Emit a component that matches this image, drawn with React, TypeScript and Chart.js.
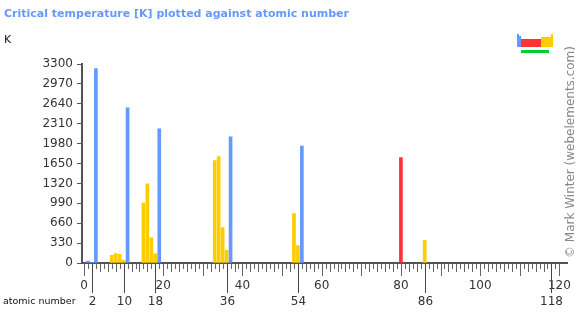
import React, { useEffect, useRef } from 'react';
import { Chart, registerables } from 'chart.js';

Chart.register(...registerables);

// Elements with a known critical temperature
const atomicNumbers = [1, 2, 3, 7, 8, 9, 10, 11, 15, 16, 17, 18, 19, 33, 34, 35, 36, 37, 53, 54, 55, 80, 86];
const criticalTemps = [33.2, 5.19, 3223, 126.2, 154.6, 144.3, 44.4, 2573, 994, 1314, 416.9, 150.8, 2223, 1700, 1766, 588, 209.4, 2093, 819, 289.7, 1938, 1750, 377];
const blocks = ['s', 's', 's', 'p', 'p', 'p', 'p', 's', 'p', 'p', 'p', 'p', 's', 'p', 'p', 'p', 'p', 's', 'p', 'p', 's', 'd', 'p'];

const yTickValues = [0, 330, 660, 990, 1320, 1650, 1980, 2310, 2640, 2970, 3300];
const xLabelValues = [0, 20, 40, 60, 80, 100, 120];
const nobleGasNumbers = [2, 10, 18, 36, 54, 86, 118];

const titleText = 'Critical temperature [K] plotted against atomic number';
const unitText = 'K';
const xAxisTitle = 'atomic number';
const creditText = '\u00A9 Mark Winter (webelements.com)';

const blockColors: Record<string, string> = {
  s: '#6699ff',
  p: '#ffcc00',
  d: '#ff3333',
  f: '#00cc33',
};

const FONT = '"DejaVu Sans", Verdana, sans-serif';

const decorPlugin = {
  id: 'decor',
  afterDraw(chart: any) {
    const ctx = chart.ctx as CanvasRenderingContext2D;
    const xs = chart.scales.x;
    const area = chart.chartArea;
    ctx.save();

    // Minor / major ticks on the x axis
    ctx.strokeStyle = '#666';
    ctx.lineWidth = 1;
    xs.ticks.forEach((t: any) => {
      const v = t.value;
      const px = Math.round(xs.getPixelForValue(v)) + 0.5;
      const end = v % 10 === 0 ? 276 : v % 2 === 0 ? 272 : 269;
      ctx.beginPath();
      ctx.moveTo(px, area.bottom + 1);
      ctx.lineTo(px, end);
      ctx.stroke();
    });

    // Title
    ctx.fillStyle = '#6699ff';
    ctx.font = `bold 11px ${FONT}`;
    ctx.textAlign = 'left';
    ctx.textBaseline = 'middle';
    ctx.fillText(titleText, 4, 14);

    // Unit
    ctx.fillStyle = '#111';
    ctx.font = `11px ${FONT}`;
    ctx.fillText(unitText, 4, 40);

    // x axis title
    ctx.fillStyle = '#111';
    ctx.font = `9.5px ${FONT}`;
    ctx.fillText(xAxisTitle, 3, 302);

    // Noble gas markers
    ctx.strokeStyle = '#444';
    ctx.lineWidth = 1;
    ctx.fillStyle = '#333';
    ctx.font = `12px ${FONT}`;
    ctx.textAlign = 'center';
    nobleGasNumbers.forEach((n) => {
      const px = Math.round(xs.getPixelForValue(n)) + 0.5;
      ctx.beginPath();
      ctx.moveTo(px, area.bottom + 1);
      ctx.lineTo(px, 293);
      ctx.stroke();
      ctx.fillText(String(n), px, 302);
    });

    // Credit
    ctx.save();
    ctx.translate(571, 152);
    ctx.rotate(-Math.PI / 2);
    ctx.fillStyle = '#888';
    ctx.font = `12px ${FONT}`;
    ctx.textAlign = 'center';
    ctx.textBaseline = 'middle';
    ctx.fillText(creditText, 0, 0);
    ctx.restore();

    // Periodic table icon
    ctx.fillStyle = blockColors.s;
    ctx.fillRect(517, 34, 2, 13);
    ctx.fillRect(519, 36, 2, 11);
    ctx.fillStyle = blockColors.d;
    ctx.fillRect(521, 39, 20, 8);
    ctx.fillStyle = blockColors.p;
    ctx.fillRect(541, 37, 12, 10);
    ctx.fillRect(551, 34, 2, 3);
    ctx.fillStyle = blockColors.f;
    ctx.fillRect(521, 50, 28, 3);

    ctx.restore();
  },
};

export default function App() {
  const canvasRef = useRef<HTMLCanvasElement | null>(null);

  useEffect(() => {
    if (!canvasRef.current) return;
    Chart.defaults.font.family = FONT;
    const chart = new Chart(canvasRef.current, {
      type: 'bar',
      data: {
        datasets: [
          {
            data: atomicNumbers.map((n, i) => ({ x: n, y: criticalTemps[i] })),
            backgroundColor: blocks.map((b) => blockColors[b]),
            borderWidth: 0,
            barThickness: 3,
          },
        ],
      },
      options: {
        animation: false,
        responsive: false,
        layout: { padding: { top: 64, right: 12, left: 0, bottom: 0 } },
        plugins: {
          legend: { display: false },
          tooltip: { enabled: false },
          title: { display: false },
        },
        scales: {
          x: {
            type: 'linear',
            min: 0,
            max: 121.5,
            afterBuildTicks: (scale: any) => {
              const t = [];
              for (let v = 0; v <= 120; v++) t.push({ value: v });
              scale.ticks = t;
            },
            afterFit: (scale: any) => {
              scale.height = 52;
            },
            ticks: {
              autoSkip: false,
              maxRotation: 0,
              minRotation: 0,
              padding: 9,
              color: '#333',
              font: { size: 12, family: FONT },
              callback: (v: any) => (xLabelValues.includes(Number(v)) ? String(v) : ''),
            },
            grid: {
              drawOnChartArea: false,
              drawTicks: true,
              tickLength: 7,
              color: 'rgba(0,0,0,0)',
              tickColor: 'rgba(0,0,0,0)',
              lineWidth: 1,
            },
            border: { display: true, color: '#555', width: 2 },
          },
          y: {
            type: 'linear',
            min: 0,
            max: 3300,
            afterBuildTicks: (scale: any) => {
              scale.ticks = yTickValues.map((v) => ({ value: v }));
            },
            afterFit: (scale: any) => {
              scale.width = 82;
            },
            ticks: {
              padding: 4,
              color: '#333',
              font: { size: 12, family: FONT },
              callback: (v: any) => String(v),
            },
            grid: {
              drawOnChartArea: false,
              drawTicks: true,
              tickLength: 5,
              color: '#555',
              lineWidth: 1,
            },
            border: { display: true, color: '#555', width: 2 },
          },
        },
      },
      plugins: [decorPlugin],
    } as any);
    return () => chart.destroy();
  }, []);

  return (
    <div style={{ position: 'absolute', left: 0, top: 0, width: 580, height: 315, background: '#fff' }}>
      <canvas ref={canvasRef} width={580} height={315} style={{ width: 580, height: 315, display: 'block' }} />
    </div>
  );
}
